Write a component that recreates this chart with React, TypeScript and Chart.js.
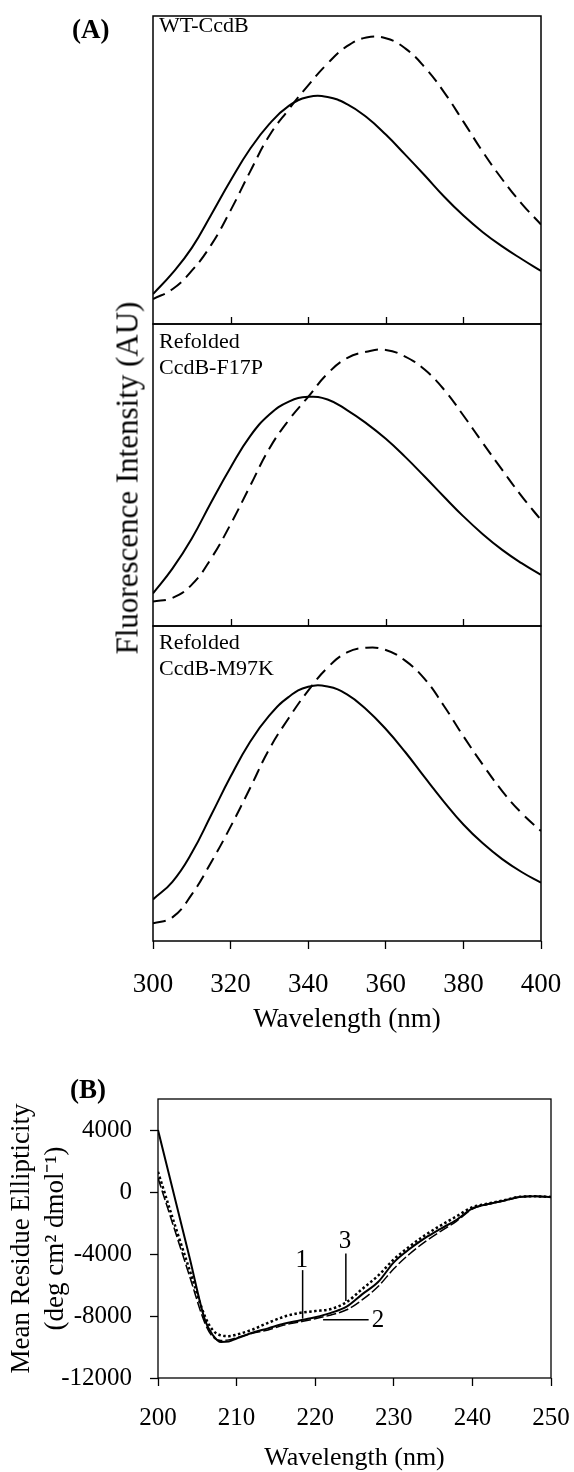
import React, { useEffect, useRef } from "react";
import { Chart, registerables } from "chart.js";

Chart.register(...registerables);

const FONT = "'Liberation Serif', 'Times New Roman', Times, serif";

// ---------- Panel A: fluorescence emission spectra (AU, normalised per sub-panel) ----------
const wavelengthA = [300, 305, 310, 315, 320, 325, 330, 335, 340, 345, 350, 355, 360, 365, 370, 375, 380, 385, 390, 395, 400];
const wtNative = [9.7, 16.5, 24.7, 35.5, 46.6, 56.8, 65.0, 70.8, 73.7, 73.7, 71.4, 67.2, 61.5, 55.0, 48.3, 41.4, 35.2, 29.8, 25.2, 21.1, 17.2];
const wtDenatured = [8.1, 11.3, 17.3, 25.7, 36.9, 49.4, 61.2, 69.7, 77.5, 84.6, 90.2, 93.0, 92.8, 89.5, 83.4, 75.3, 65.7, 55.9, 47.0, 39.1, 32.3];
const f17pNative = [10.8, 19.0, 29.0, 41.0, 52.5, 62.8, 70.0, 74.3, 75.9, 75.0, 71.5, 67.1, 62.0, 56.0, 49.5, 42.8, 36.3, 30.4, 25.2, 20.8, 16.9];
const f17pDenatured = [8.1, 9.3, 13.7, 22.4, 33.7, 46.3, 58.8, 68.2, 75.9, 83.6, 88.7, 90.8, 91.4, 89.2, 84.9, 78.3, 69.7, 60.6, 51.7, 43.0, 35.1];
const m97kNative = [13.2, 18.8, 28.0, 40.0, 52.2, 63.2, 71.6, 77.5, 80.7, 80.8, 78.3, 73.5, 67.3, 60.0, 52.0, 44.2, 37.0, 31.0, 26.0, 21.9, 18.5];
const m97kDenatured = [5.6, 7.5, 14.8, 25.0, 36.3, 48.5, 61.0, 70.8, 79.5, 86.8, 91.6, 93.1, 92.4, 89.0, 83.2, 74.6, 65.0, 56.0, 47.6, 40.6, 34.9];
const xTicksA = [300, 320, 340, 360, 380, 400];
const innerTicksA = [320, 340, 360, 380];
const labelWT = ["WT-CcdB"];
const labelF17P = ["Refolded", "CcdB-F17P"];
const labelM97K = ["Refolded", "CcdB-M97K"];

// ---------- Panel B: far-UV CD spectra ----------
const wavelengthB = [200, 202, 204, 206, 207, 208, 209, 210, 212, 214, 216, 218, 220, 222, 224, 226, 228, 230, 232, 234, 236, 238, 240, 242, 244, 246, 248, 250];
const cdCurve1 = [4000, -100, -4200, -8300, -9250, -9680, -9650, -9450, -9080, -8800, -8500, -8290, -8080, -7800, -7400, -6590, -5810, -4540, -3680, -2960, -2360, -1790, -1060, -780, -560, -325, -280, -320];
const cdCurve2 = [900, -2250, -5400, -8500, -9360, -9580, -9540, -9400, -9120, -8900, -8590, -8390, -8180, -7930, -7600, -6950, -6100, -4950, -4000, -3200, -2520, -1880, -1100, -790, -560, -325, -280, -320];
const cdCurve3 = [1300, -1900, -5000, -8060, -8930, -9250, -9300, -9200, -8880, -8440, -8050, -7800, -7680, -7550, -7100, -6250, -5400, -4350, -3520, -2780, -2150, -1560, -980, -750, -540, -310, -280, -320];
const yTicksB = [-12000, -8000, -4000, 0, 4000];
const xTicksB = [200, 210, 220, 230, 240, 250];
const cdLabels = ["1", "3", "2"];
const cdLabelX = [218.3, 223.8, 228.0];
const cdLabelY = [-4430, -3200, -8280];
const cdLeaders = [
  [[218.4, -5040], [218.4, -8170]],
  [[223.9, -3960], [223.9, -7030]],
  [[221.0, -8240], [226.8, -8240]],
];

function lineDataset(xs: number[], ys: number[], width: number, dash: number[], smooth: "tension" | "monotone") {
  return {
    data: xs.map((x, i) => ({ x, y: ys[i] })),
    borderColor: "#000",
    backgroundColor: "#000",
    borderWidth: width,
    borderDash: dash,
    borderCapStyle: "butt" as const,
    borderJoinStyle: "round" as const,
    pointRadius: 0,
    fill: false,
    tension: smooth === "tension" ? 0.45 : 0,
    cubicInterpolationMode: smooth === "monotone" ? ("monotone" as const) : ("default" as const),
  };
}

function zeroPad(s: any) {
  s.paddingLeft = 0;
  s.paddingRight = 0;
  s.paddingTop = 0;
  s.paddingBottom = 0;
}

function framePlugin(width: number) {
  return {
    id: "frame",
    afterDatasetsDraw(chart: any) {
      const { ctx, chartArea: a } = chart;
      ctx.save();
      ctx.strokeStyle = "#000";
      ctx.lineWidth = width;
      ctx.strokeRect(a.left, a.top, a.right - a.left, a.bottom - a.top);
      ctx.restore();
    },
  };
}

function innerTickPlugin(values: number[]) {
  return {
    id: "innerTicks",
    afterDatasetsDraw(chart: any) {
      const { ctx, chartArea: a } = chart;
      const xs = chart.scales.x;
      ctx.save();
      ctx.strokeStyle = "#000";
      ctx.lineWidth = 1.3;
      ctx.beginPath();
      values.forEach((v) => {
        const px = Math.round(xs.getPixelForValue(v)) + 0.5;
        ctx.moveTo(px, a.bottom);
        ctx.lineTo(px, a.bottom - 7);
      });
      ctx.stroke();
      ctx.restore();
    },
  };
}

function panelLabelPlugin(lines: string[], offset: number) {
  return {
    id: "panelLabel",
    afterDatasetsDraw(chart: any) {
      const { ctx, chartArea: a } = chart;
      ctx.save();
      ctx.fillStyle = "#000";
      ctx.font = `22px ${FONT}`;
      ctx.textBaseline = "middle";
      ctx.textAlign = "left";
      lines.forEach((t, i) => ctx.fillText(t, a.left + 6, a.top + offset + i * 26));
      ctx.restore();
    },
  };
}

const cdAnnotationPlugin = {
  id: "cdAnnotations",
  afterDatasetsDraw(chart: any) {
    const { ctx } = chart;
    const xs = chart.scales.x;
    const ys = chart.scales.y;
    ctx.save();
    ctx.strokeStyle = "#000";
    ctx.lineWidth = 1.5;
    cdLeaders.forEach((seg) => {
      ctx.beginPath();
      ctx.moveTo(xs.getPixelForValue(seg[0][0]), ys.getPixelForValue(seg[0][1]));
      ctx.lineTo(xs.getPixelForValue(seg[1][0]), ys.getPixelForValue(seg[1][1]));
      ctx.stroke();
    });
    ctx.fillStyle = "#000";
    ctx.font = `25px ${FONT}`;
    ctx.textAlign = "center";
    ctx.textBaseline = "middle";
    cdLabels.forEach((t, i) => {
      ctx.fillText(t, xs.getPixelForValue(cdLabelX[i]), ys.getPixelForValue(cdLabelY[i]));
    });
    ctx.restore();
  },
};

type PanelProps = {
  top: number;
  height: number;
  padTop: number;
  padBottom: number;
  nativeY: number[];
  denaturedY: number[];
  label: string[];
  labelOffset: number;
  bottomAxis: boolean;
};

function FluorPanel(p: PanelProps) {
  const ref = useRef<HTMLCanvasElement>(null);
  useEffect(() => {
    const plugins: any[] = [framePlugin(1.5), panelLabelPlugin(p.label, p.labelOffset)];
    if (!p.bottomAxis) plugins.push(innerTickPlugin(innerTicksA));
    const xScale: any = p.bottomAxis
      ? {
          type: "linear",
          min: 300,
          max: 400,
          afterBuildTicks: (s: any) => {
            s.ticks = xTicksA.map((v) => ({ value: v }));
          },
          afterFit: (s: any) => {
            s.height = 109;
            zeroPad(s);
          },
          ticks: {
            color: "#000",
            padding: 20,
            font: { family: FONT, size: 27 },
            maxRotation: 0,
            callback: (v: any) => String(v),
          },
          grid: {
            drawOnChartArea: false,
            drawTicks: true,
            tickLength: 8,
            tickColor: "#000",
            tickWidth: 1.3,
          },
          border: { display: false },
          title: {
            display: true,
            text: "Wavelength (nm)",
            color: "#000",
            font: { family: FONT, size: 27, lineHeight: 1.2 },
            padding: { top: 0, bottom: 14 },
          },
        }
      : { type: "linear", min: 300, max: 400, display: false };
    const chart = new Chart(ref.current as HTMLCanvasElement, {
      type: "line",
      data: {
        datasets: [
          lineDataset(wavelengthA, p.nativeY, 2, [], "tension"),
          lineDataset(wavelengthA, p.denaturedY, 2, [13, 7], "tension"),
        ],
      },
      options: {
        responsive: false,
        maintainAspectRatio: false,
        animation: false,
        events: [],
        layout: { autoPadding: false, padding: { left: 153, right: 33, top: p.padTop, bottom: p.padBottom } },
        plugins: { legend: { display: false }, tooltip: { enabled: false } },
        scales: {
          x: xScale,
          y: { min: 0, max: 100, display: false },
        },
      } as any,
      plugins,
    });
    return () => chart.destroy();
  }, []);
  return (
    <canvas
      ref={ref}
      width={574}
      height={p.height}
      style={{ position: "absolute", left: 0, top: p.top, width: 574, height: p.height }}
    />
  );
}

function CDPanel() {
  const ref = useRef<HTMLCanvasElement>(null);
  useEffect(() => {
    const chart = new Chart(ref.current as HTMLCanvasElement, {
      type: "line",
      data: {
        datasets: [
          lineDataset(wavelengthB, cdCurve1, 2, [], "monotone"),
          lineDataset(wavelengthB, cdCurve2, 1.5, [10, 3], "monotone"),
          lineDataset(wavelengthB, cdCurve3, 2.5, [2.5, 2.5], "monotone"),
        ],
      },
      options: {
        responsive: false,
        maintainAspectRatio: false,
        animation: false,
        events: [],
        layout: { autoPadding: false, padding: { left: 0, right: 23, top: 49, bottom: 0 } },
        plugins: { legend: { display: false }, tooltip: { enabled: false } },
        scales: {
          x: {
            type: "linear",
            min: 200,
            max: 250,
            afterBuildTicks: (s: any) => {
              s.ticks = xTicksB.map((v) => ({ value: v }));
            },
            afterFit: (s: any) => {
              s.height = 94;
              zeroPad(s);
            },
            ticks: {
              color: "#000",
              padding: 17,
              font: { family: FONT, size: 25 },
              maxRotation: 0,
              callback: (v: any) => String(v),
            },
            grid: { drawOnChartArea: false, drawTicks: true, tickLength: 8, tickColor: "#000", tickWidth: 1.3 },
            border: { display: false },
            title: {
              display: true,
              text: "Wavelength (nm)",
              color: "#000",
              font: { family: FONT, size: 26, lineHeight: 1.1 },
              padding: { top: 0, bottom: 0 },
            },
          },
          y: {
            type: "linear",
            min: -12000,
            max: 6000,
            afterBuildTicks: (s: any) => {
              s.ticks = yTicksB.map((v) => ({ value: v }));
            },
            afterFit: (s: any) => {
              s.width = 158;
              zeroPad(s);
            },
            ticks: {
              color: "#000",
              padding: 18,
              font: { family: FONT, size: 25 },
              callback: (v: any) => String(v),
            },
            grid: { drawOnChartArea: false, drawTicks: true, tickLength: 8, tickColor: "#000", tickWidth: 1.3 },
            border: { display: false },
            title: {
              display: true,
              text: ["Mean Residue Ellipticity", "(deg cm\u00B2 dmol\u207B\u00B9)"],
              color: "#000",
              font: { family: FONT, size: 27, lineHeight: 1.25 },
              padding: { top: 5, bottom: 0 },
            },
          },
        },
      } as any,
      plugins: [framePlugin(1.3), cdAnnotationPlugin],
    });
    return () => chart.destroy();
  }, []);
  return (
    <canvas
      ref={ref}
      width={574}
      height={422}
      style={{ position: "absolute", left: 0, top: 1050, width: 574, height: 422 }}
    />
  );
}

export default function App() {
  return (
    <div style={{ position: "absolute", left: 0, top: 0, width: 574, height: 1472, background: "#fff", overflow: "hidden" }}>
      <FluorPanel top={0} height={330} padTop={16} padBottom={6} nativeY={wtNative} denaturedY={wtDenatured} label={labelWT} labelOffset={10} bottomAxis={false} />
      <FluorPanel top={318} height={314} padTop={6} padBottom={6} nativeY={f17pNative} denaturedY={f17pDenatured} label={labelF17P} labelOffset={18} bottomAxis={false} />
      <FluorPanel top={620} height={430} padTop={6} padBottom={0} nativeY={m97kNative} denaturedY={m97kDenatured} label={labelM97K} labelOffset={17} bottomAxis={true} />
      <CDPanel />
      <div
        style={{
          position: "absolute",
          left: 127,
          top: 478,
          transform: "translate(-50%, -50%) rotate(-90deg)",
          whiteSpace: "nowrap",
          fontFamily: FONT,
          fontSize: 31,
          lineHeight: 1,
          color: "#000",
        }}
      >
        Fluorescence Intensity (AU)
      </div>
      <div
        style={{ position: "absolute", left: 72, top: 16, fontFamily: FONT, fontWeight: "bold", fontSize: 27, lineHeight: 1, color: "#000" }}
      >
        (A)
      </div>
      <div
        style={{ position: "absolute", left: 70, top: 1076, fontFamily: FONT, fontWeight: "bold", fontSize: 27, lineHeight: 1, color: "#000" }}
      >
        (B)
      </div>
    </div>
  );
}
